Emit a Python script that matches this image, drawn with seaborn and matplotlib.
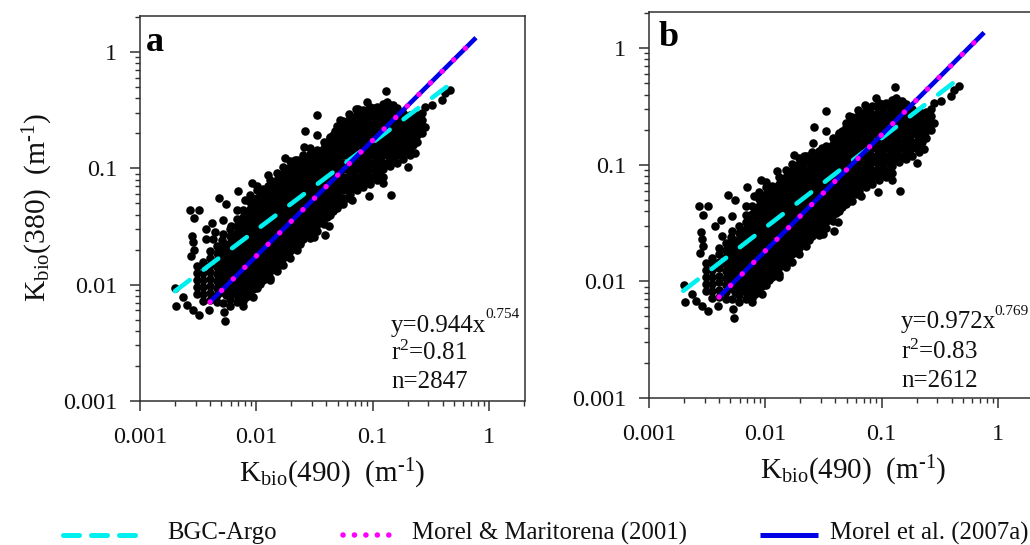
import matplotlib
matplotlib.use("Agg")
import matplotlib.pyplot as plt
from matplotlib.lines import Line2D
import seaborn as sns
import pandas as pd

sns.set_theme(style="ticks")
plt.rcParams["font.family"] = ["Liberation Serif", "DejaVu Serif"]
plt.rcParams["mathtext.fontset"] = "custom"
plt.rcParams["mathtext.rm"] = "Liberation Serif"
plt.rcParams["mathtext.it"] = "Liberation Serif"
plt.rcParams["mathtext.default"] = "regular"

# Points of the dense cloud, read by column: Kbio(490) and its Kbio(380) values
cloud_x = [.00307, .0035, .0040, .0046, .0052, .0059, .0068, .0077, .0088, .0101, .0115, .0131,
           .015, .0171, .0195, .0223, .0254, .029, .033, .0378, .043, .0492, .056, .064, .0728,
           .0834, .0948, .108, .1235, .141, .161, .184, .209, .239, .268]
cloud_y = [
    [.0083, .0095, .0110, .0126, .0145],
    [.0072, .0083, .0095, .0110, .0126, .0145, .0158],
    [.0074, .0085, .0098, .0112, .0129, .0148, .0170, .0195],
    [.0071, .0081, .0093, .0107, .0123, .0141, .0162, .0186, .0214],
    [.0070, .0087, .0100, .0115, .0132, .0151, .0174, .0200, .023, .027],
    [.0066, .0076, .0087, .0100, .0115, .0132, .0151, .0174, .0200, .023, .026, .030],
    [.0071, .0081, .0093, .0107, .0123, .0141, .0162, .0186, .0214, .0245, .028, .032, .037],
    [.0072, .0083, .0095, .0110, .0126, .0145, .0166, .0191, .022, .0251, .0288, .033, .038, .044],
    [.0085, .0098, .0112, .0129, .0148, .0170, .0195, .0224, .0257, .0295, .0339, .0389, .0447, .0513, .0589],
    [.0094, .0107, .0123, .0141, .0162, .0186, .0214, .0245, .028, .032, .037, .043, .049, .056, .065, .071],
    [.0110, .0126, .0145, .0166, .0191, .022, .0251, .0288, .033, .038, .044, .050, .058, .066],
    [.0115, .0132, .0151, .0174, .0200, .023, .026, .030, .035, .040, .046, .053, .060, .069, .079],
    [.0132, .0151, .0174, .0200, .023, .026, .030, .035, .040, .046, .053, .060, .069, .079, .091],
    [.0148, .0170, .0195, .0224, .0257, .0295, .0339, .0389, .0447, .0513, .0589, .0676, .0776, .0891, .102],
    [.0170, .0195, .0224, .0257, .0295, .0339, .0389, .0447, .0513, .0589, .0676, .0776, .0891, .102, .115],
    [.0200, .023, .026, .030, .035, .040, .046, .053, .060, .069, .079, .091, .105, .118],
    [.0245, .028, .032, .037, .043, .049, .056, .065, .074, .085, .098, .112, .129],
    [.0251, .0288, .033, .038, .044, .050, .058, .066, .076, .087, .100, .115, .132],
    [.0288, .033, .038, .044, .050, .058, .066, .076, .087, .100, .115, .132, .145],
    [.033, .038, .044, .050, .058, .066, .076, .087, .100, .115, .132, .151, .170],
    [.040, .046, .053, .060, .069, .079, .091, .105, .120, .138, .158, .182],
    [.046, .053, .060, .069, .079, .091, .105, .120, .138, .158, .182, .209, .230],
    [.049, .056, .065, .074, .085, .098, .112, .129, .148, .170, .195, .224, .257],
    [.060, .069, .079, .091, .105, .120, .138, .158, .182, .209, .240, .275],
    [.065, .074, .085, .098, .112, .129, .148, .170, .195, .224, .257, .295],
    [.069, .079, .091, .105, .120, .138, .158, .182, .209, .240, .275, .316],
    [.074, .085, .098, .112, .129, .148, .170, .195, .224, .257, .295, .339],
    [.079, .091, .105, .120, .138, .158, .182, .209, .240, .275, .316],
    [.085, .098, .112, .129, .148, .170, .195, .224, .257, .295, .339, .36],
    [.105, .120, .138, .158, .182, .209, .240, .275, .316, .35],
    [.112, .129, .148, .170, .195, .224, .257, .295, .33],
    [.120, .138, .158, .182, .209, .240, .275, .30],
    [.129, .148, .170, .195, .224, .257, .29],
    [.170, .195, .224, .257, .285],
    [.20, .23, .26, .30],
]

# More points of the dense cloud, lying between the columns above
inner_x = [.0049, .0055, .0063, .0072, .0082, .0094, .0108, .0123, .014, .016, .0183, .0208, .0238, .0271,
           .031, .0353, .0403, .046, .0525, .06, .068, .078, .089, .101, .115, .132, .151, .172, .196, .224]
inner_y = [
    [.0087, .0100, .0115, .0132, .0151, .0174],
    [.0081, .0093, .0107, .0123, .0141, .0162, .0186, .0214],
    [.0087, .0100, .0115, .0132, .0151, .0174, .0200, .023, .026],
    [.0076, .0087, .0100, .0115, .0132, .0151, .0174, .0200, .023, .026, .030, .034],
    [.0078, .0090, .0103, .0118, .0135, .0155, .0178, .0205, .0235, .027, .031, .0355, .041],
    [.0091, .0103, .0118, .0135, .0155, .0178, .0205, .0235, .027, .031, .0355, .041, .047, .054],
    [.0102, .0117, .0135, .0155, .0178, .0205, .0235, .027, .031, .0355, .041, .047, .054, .062],
    [.0123, .0141, .0162, .0186, .0214, .0245, .028, .032, .037, .043, .049, .056, .065],
    [.0141, .0162, .0186, .0214, .0245, .028, .032, .037, .043, .049, .056, .065, .074],
    [.0160, .0183, .021, .0241, .0276, .0316, .0363, .0417, .0479, .055, .063, .072, .083],
    [.0182, .0209, .024, .0275, .0316, .0363, .0417, .0479, .055, .063, .072, .083, .095],
    [.0214, .0245, .028, .032, .037, .043, .049, .056, .065, .074, .085, .098, .110],
    [.0225, .026, .030, .034, .039, .045, .052, .060, .069, .079, .091, .105, .118],
    [.0268, .0307, .0352, .0404, .0464, .053, .061, .070, .080, .092, .106, .122],
    [.0309, .0355, .041, .047, .054, .062, .071, .081, .093, .107, .123, .138],
    [.0355, .041, .047, .054, .062, .071, .081, .093, .107, .123, .141],
    [.0385, .043, .049, .056, .065, .074, .085, .098, .112, .129, .148, .165],
    [.043, .049, .056, .065, .074, .085, .098, .112, .129, .148, .170, .195],
    [.049, .056, .065, .074, .085, .098, .112, .129, .148, .170, .195, .224],
    [.056, .065, .074, .085, .098, .112, .129, .148, .170, .195, .224, .250],
    [.069, .079, .091, .105, .120, .138, .158, .182, .209, .240, .27],
    [.074, .085, .098, .112, .129, .148, .170, .195, .224, .257, .295],
    [.079, .091, .105, .120, .138, .158, .182, .209, .240, .275, .316],
    [.085, .098, .112, .129, .148, .170, .195, .224, .257, .295, .33],
    [.091, .105, .120, .138, .158, .182, .209, .240, .275, .316],
    [.112, .129, .148, .170, .195, .224, .257, .295, .339],
    [.120, .138, .158, .182, .209, .240, .275, .316],
    [.129, .148, .170, .195, .224, .257, .295],
    [.138, .158, .182, .209, .240, .275],
    [.158, .182, .209, .240, .270],
]

# Scattered points along the edge of the cloud
edge_x = [.0020, .00203, .00235, .00255, .00287, .00321, .00394, .00531, .00538, .00773, .0093, .01076,
          .0131, .01545, .01545, .0237, .0257, .0313, .0389, .0425, .0346, .043, .0661, .0929, .143, .122,
          .203, .231, .172, .282, .321, .392, .462, .419, .282,
          .00269, .00324, .00293, .00278, .00284, .00291, .00273, .00369, .00413, .00427, .00481, .00545,
          .0052, .00503, .007, .00678, .008, .00912, .01267, .0176, .0215, .0262, .0334, .0334, .0257,
          .043, .0524, .0631, .072, .0888, .1294, .108, .1507, .1318]
edge_y = [.00936, .0066, .00784, .00674, .0061, .00553, .0061, .00579, .00485, .0066, .00784, .0110,
          .011, .01435, .0164, .0235, .0296, .0256, .0268, .0321, .0338, .0485, .0535, .0579, .059, .0744,
          .1033, .136, .1455, .2276, .349, .385, .469, .44, .338,
          .0440, .0440, .0373, .0263, .0231, .0200, .0175, .03, .0338, .0246, .0553, .0495,
          .0361, .024, .0644, .044, .0535, .0744, .0877, .122, .1178, .2104, .2864, .1932, .1534,
          .1868, .2596, .2924, .3266, .3727, .4634, .338, .349, .3727]

# Points that appear only in panel a
only_a_x = [.0037, .0044, .0061, .0095, .0125, .0205, .029, .047, .075]
only_a_y = [.0245, .0282, .0318, .0472, .0712, .0985, .150, .210, .325]

# Fit lines, panels a and b
bgc_a_x, bgc_a_y = [.0020, .43], [.0088, .50]
bgc_b_x, bgc_b_y = [.00197, .42], [.0083, .51]
morel_a_x, morel_a_y = [.0040, .773], [.0071, 1.327]
morel_b_x, morel_b_y = [.0040, .76], [.00734, 1.36]

ticks = [.001, .01, .1, 1]
tick_labels = ["0.001", "0.01", "0.1", "1"]
stats_a = ["y=0.944x", "0.754", "r$^{2}$=0.81", "n=2847"]
stats_b = ["y=0.972x", "0.769", "r$^{2}$=0.83", "n=2612"]
legend_names = ["BGC-Argo", "Morel & Maritorena (2001)", "Morel et al. (2007a)"]

W, H = 1030, 545
fig = plt.figure(figsize=(W / 100, H / 100), dpi=100, facecolor="white")

CYAN, MAGENTA, BLUE = "#00f0f0", "#ff00ff", "#0000e6"
EDGE = "#303030"
TXT = "#111111"

cyan_style = dict(color=CYAN, lw=3.3, dash_capstyle="round", linestyle=(0, (4.0, 3.8)))
blue_style = dict(color=BLUE, lw=3.3, solid_capstyle="butt")
dot_style = dict(color=MAGENTA, lw=3.9, dash_capstyle="round", linestyle=(0, (0.01, 3.01)))


def flat_points(extra_x=(), extra_y=()):
    xs, ys = [], []
    for x, col in list(zip(cloud_x, cloud_y)) + list(zip(inner_x, inner_y)):
        xs += [x] * len(col)
        ys += col
    xs += edge_x + list(extra_x)
    ys += edge_y + list(extra_y)
    return pd.DataFrame({"x": xs, "y": ys})


def panel(box, df, bgc, morel, letter, letter_pos, stats, stats_pos):
    l, t, r, b = box
    ax = fig.add_axes([l / W, 1 - b / H, (r - l) / W, (b - t) / H])
    ax.set_xscale("log")
    ax.set_yscale("log")
    sns.scatterplot(data=df, x="x", y="y", ax=ax, color="black", s=38, linewidth=0, legend=False, zorder=2)
    sns.lineplot(x=bgc[0], y=bgc[1], ax=ax, errorbar=None, zorder=3, **cyan_style)
    sns.lineplot(x=morel[0], y=morel[1], ax=ax, errorbar=None, zorder=4, **blue_style)
    sns.lineplot(x=morel[0], y=morel[1], ax=ax, errorbar=None, zorder=5, **dot_style)
    ax.set_xlim(.001, 2.04)
    ax.set_ylim(.001, 2.04)
    ax.set_xticks(ticks, tick_labels)
    ax.set_yticks(ticks, tick_labels)
    ax.tick_params(which="major", length=7.5, width=1.1, labelsize=17.5, color=EDGE, labelcolor=TXT)
    ax.tick_params(axis="x", which="major", pad=11)
    ax.tick_params(axis="y", which="major", pad=9)
    ax.tick_params(which="minor", length=3.6, width=1.0, color=EDGE, labelleft=False, labelbottom=False)
    for s in ax.spines.values():
        s.set_linewidth(1.1)
        s.set_color(EDGE)
    ax.set_xlabel("")
    ax.set_ylabel("")
    ax.text(letter_pos[0] / W, 1 - letter_pos[1] / H, letter, transform=fig.transFigure,
            fontsize=26, fontweight="bold", color="black", ha="left", va="baseline")
    sizes = [18, 11, 18, 18]
    for s, (px, py), fs in zip(stats, stats_pos, sizes):
        ax.text(px / W, 1 - py / H, s, transform=fig.transFigure, fontsize=fs, color=TXT,
                ha="left", va="baseline", clip_on=False)
    return ax


panel((140, 16, 525, 401), flat_points(only_a_x, only_a_y), (bgc_a_x, bgc_a_y), (morel_a_x, morel_a_y),
      "a", (146, 51), stats_a, [(391, 332), (485, 318), (391, 360), (391, 388)])
panel((649, 12, 1034, 398), flat_points(), (bgc_b_x, bgc_b_y), (morel_b_x, morel_b_y),
      "b", (659, 46), stats_b, [(901, 328), (994, 315), (901, 359), (901, 387)])

xlab = "K$_{bio}$(490)  (m$^{\\text{-1}}$)"
ylab = "K$_{bio}$(380)  (m$^{\\text{-1}}$)"
fig.text(332 / W, 1 - 482 / H, xlab, fontsize=21, color=TXT, ha="center", va="baseline")
fig.text(853 / W, 1 - 479 / H, xlab, fontsize=21, color=TXT, ha="center", va="baseline")
fig.text(38 / W, 1 - 207 / H, ylab, fontsize=21.3, color=TXT, ha="center", va="center", rotation=90)


def fig_line(x0, x1, style):
    fig.add_artist(Line2D([x0 / W, x1 / W], [1 - 534.5 / H] * 2, transform=fig.transFigure, **style))


fig_line(62.5, 136, dict(color=CYAN, lw=3.6, dash_capstyle="round", linestyle=(0, (3.2, 2.4))))
fig_line(343.3, 390, dict(color=MAGENTA, lw=4, dash_capstyle="round", linestyle=(0, (0.01, 2.05))))
fig_line(760, 818, dict(color=BLUE, lw=3.6, solid_capstyle="butt"))
for name, px in zip(legend_names, [167, 412, 830]):
    fig.text(px / W, 1 - 539.5 / H, name, fontsize=17.8, color=TXT, ha="left", va="baseline")

fig.savefig("out.png", dpi=100)
